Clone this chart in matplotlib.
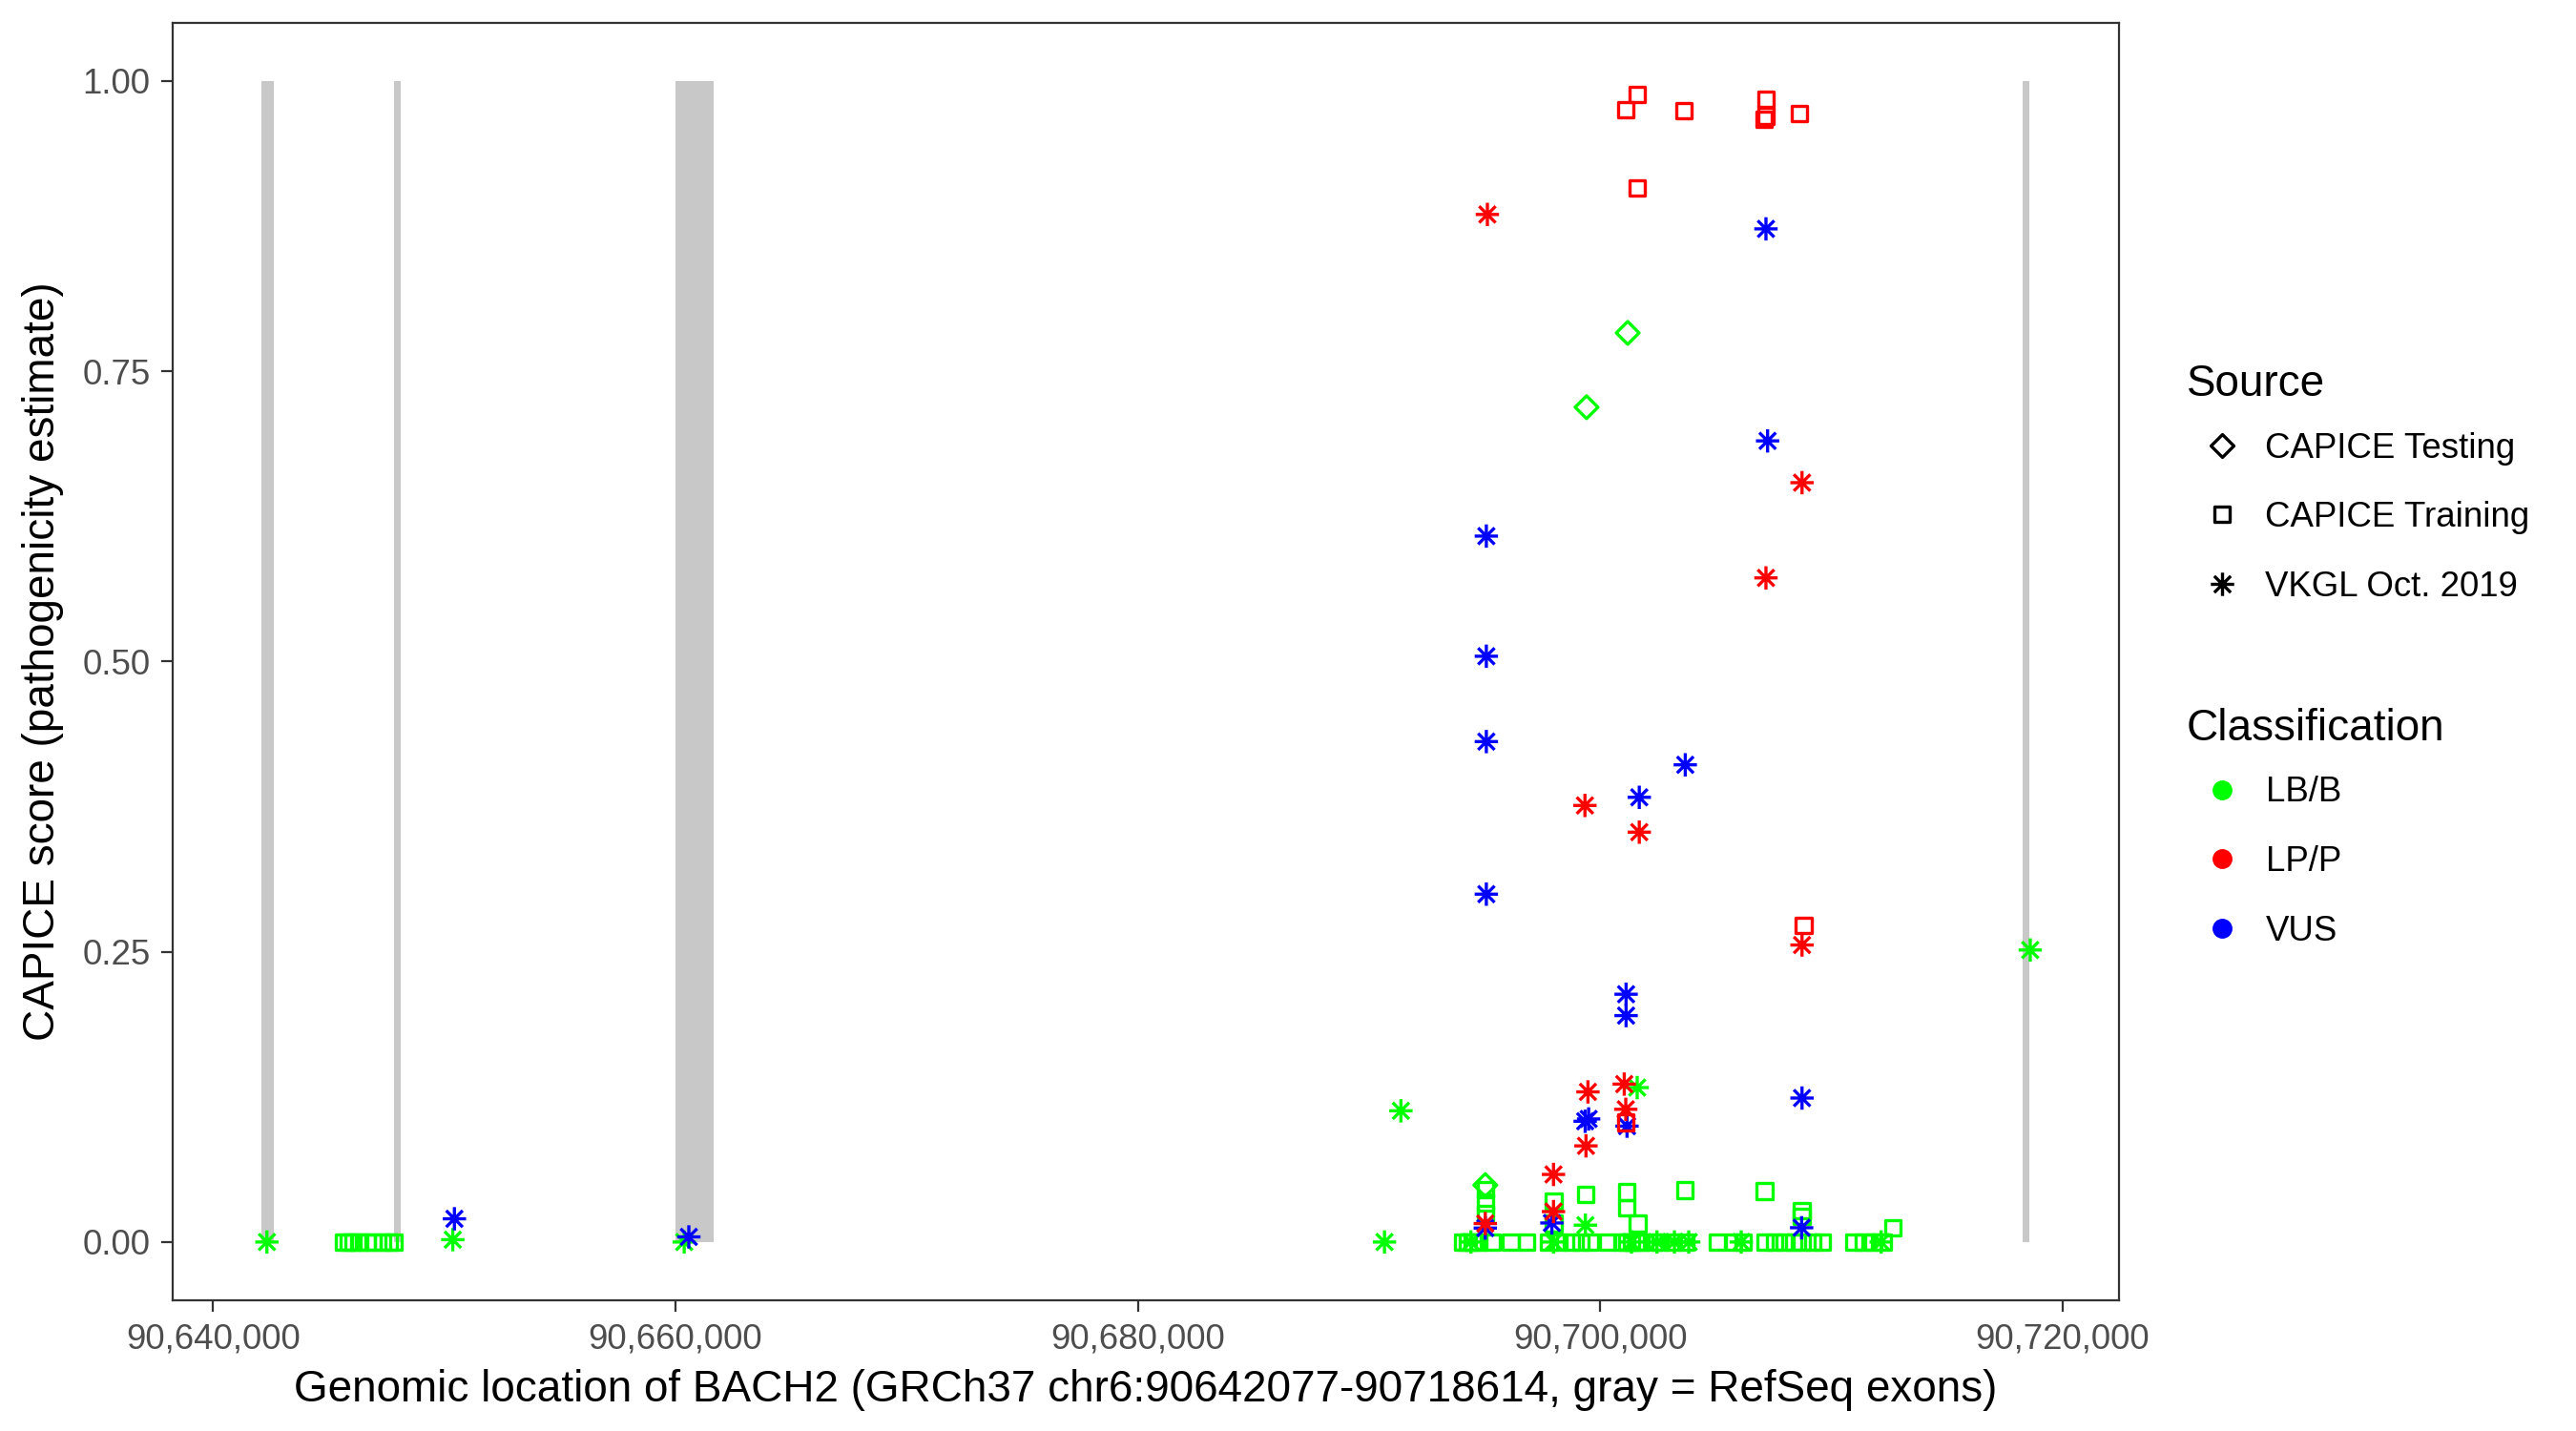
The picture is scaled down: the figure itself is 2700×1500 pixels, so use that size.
import numpy as np
import matplotlib
matplotlib.use("Agg")
import matplotlib.pyplot as plt
from matplotlib.path import Path
from matplotlib.lines import Line2D
from matplotlib.ticker import FuncFormatter

plt.rcParams["font.family"] = ["Liberation Sans", "DejaVu Sans"]

# gene + exons (GRCh37)
gene_start = 90642077
gene_end = 90718614
exon_start = [90642077, 90647820, 90659983, 90718270]
exon_end = [90642640, 90648110, 90661660, 90718560]

# CAPICE Testing
testing_lbb_pos = [90701190, 90699410, 90695030]
testing_lbb_score = [0.783, 0.719, 0.049]

# CAPICE Training
training_lpp_pos = [90701590, 90701105, 90703610, 90707170, 90707170, 90707100,
                    90708620, 90701590, 90708800, 90701100]
training_lpp_score = [0.9885, 0.9754, 0.9742, 0.9841, 0.970, 0.967,
                      0.972, 0.9078, 0.2727, 0.103]

training_lbb_pos = [90695030, 90695030, 90695030, 90697982, 90697982, 90699360,
                    90701147, 90701147, 90701628, 90703665, 90707103, 90708713,
                    90708713, 90712662,
                    90645662, 90645836, 90646055, 90646315, 90646657, 90646913,
                    90647338, 90647598, 90647800,
                    90694063, 90694269, 90694475, 90694751, 90695301, 90696126,
                    90696814, 90697777, 90698190, 90698740, 90699153, 90699566,
                    90700322, 90700941, 90701147, 90701354, 90701560, 90701767,
                    90702317, 90702592, 90703142, 90703693, 90705068, 90705756,
                    90706169, 90707132, 90707545, 90707957, 90708370, 90708714,
                    90709195, 90709608, 90710984, 90711396, 90711809, 90712222]
training_lbb_score = [0.045, 0.034, 0.024, 0.035, 0.016, 0.041,
                      0.0432, 0.0295, 0.0159, 0.0446, 0.044, 0.0268,
                      0.022, 0.0123,
                      0, 0, 0, 0, 0, 0, 0, 0, 0,
                      0, 0, 0, 0, 0, 0, 0, 0, 0, 0, 0, 0,
                      0, 0, 0, 0, 0, 0, 0, 0, 0, 0, 0, 0,
                      0, 0, 0, 0, 0, 0, 0, 0, 0, 0, 0, 0]

# VKGL Oct. 2019
vkgl_lbb_pos = [90642330, 90650370, 90660380, 90691380, 90690670, 90718600,
                90701600, 90699360,
                90694407, 90697983, 90701354, 90702455, 90703211, 90703830,
                90706100, 90712153]
vkgl_lbb_score = [0.0, 0.002, 0.0, 0.113, 0.0, 0.2515,
                  0.133, 0.0145,
                  0, 0, 0, 0, 0, 0, 0, 0]

vkgl_vus_pos = [90650440, 90660580, 90707170, 90707240, 90695075, 90695075,
                90695075, 90703680, 90701690, 90695075, 90701120, 90701120,
                90708730, 90699350, 90699500, 90701160, 90697910, 90695030,
                90708713]
vkgl_vus_score = [0.020, 0.0044, 0.8726, 0.690, 0.608, 0.5045,
                  0.431, 0.411, 0.383, 0.2996, 0.2134, 0.195,
                  0.124, 0.104, 0.106, 0.0998, 0.0164, 0.012,
                  0.0123]

vkgl_lpp_pos = [90695120, 90708730, 90707170, 90699340, 90701690, 90708730,
                90699470, 90701040, 90701106, 90699385, 90697980, 90697980,
                90695030]
vkgl_lpp_score = [0.885, 0.654, 0.572, 0.376, 0.353, 0.2558,
                  0.1293, 0.136, 0.1143, 0.0828, 0.0582, 0.0262,
                  0.0159]

col = {"LB/B": "#00FF00", "LP/P": "#FF0000", "VUS": "#0000FF"}

# ggplot-ish open shapes (0, 5, 8)
square = Path([(-1, -1), (1, -1), (1, 1), (-1, 1), (-1, -1)],
              [Path.MOVETO, Path.LINETO, Path.LINETO, Path.LINETO, Path.CLOSEPOLY])
diamond = Path([(0, -1), (1, 0), (0, 1), (-1, 0), (0, -1)],
               [Path.MOVETO, Path.LINETO, Path.LINETO, Path.LINETO, Path.CLOSEPOLY])
c = 1 / np.sqrt(2)
asterisk = Path([(-1, 0), (1, 0), (0, -1), (0, 1), (-c, -c), (c, c), (-c, c), (c, -c)],
                [Path.MOVETO, Path.LINETO] * 4)

ms = {"sq": 5.9, "di": 8.6, "ast": 8.8}
lw = 1.2

fig = plt.figure(figsize=(13.5, 7.5), dpi=200)
ax = fig.add_axes([0.0670, 0.0915, 0.8226 - 0.0670, 0.984 - 0.0915])

# exons in gray
ax.bar(exon_start, [1] * len(exon_start),
       width=np.array(exon_end) - np.array(exon_start),
       align="edge", color="#C8C8C8", linewidth=0, zorder=1)

groups = [
    (training_lbb_pos, training_lbb_score, square, "sq", "LB/B"),
    (vkgl_lbb_pos, vkgl_lbb_score, asterisk, "ast", "LB/B"),
    (testing_lbb_pos, testing_lbb_score, diamond, "di", "LB/B"),
    (vkgl_vus_pos, vkgl_vus_score, asterisk, "ast", "VUS"),
    (training_lpp_pos, training_lpp_score, square, "sq", "LP/P"),
    (vkgl_lpp_pos, vkgl_lpp_score, asterisk, "ast", "LP/P"),
]
for pos, score, mk, k, cls in groups:
    ax.scatter(pos, score, marker=mk, s=ms[k] ** 2, facecolors="none",
               edgecolors=col[cls], linewidths=lw, zorder=3)

lo, hi = gene_start, gene_end
pad = (hi - lo) * 0.05
ax.set_xlim(lo - pad, hi + pad)
ax.set_ylim(-0.05, 1.05)

ax.set_xticks(np.arange(90640000, 90720001, 20000))
ax.xaxis.set_major_formatter(FuncFormatter(lambda v, p: f"{int(v):,}"))
ax.set_yticks([0, 0.25, 0.5, 0.75, 1.0])
ax.yaxis.set_major_formatter(FuncFormatter(lambda v, p: f"{v:.2f}"))

ax.tick_params(length=4.4, width=0.8, color="#333333", labelcolor="#4D4D4D",
               labelsize=13.2, pad=4)
for sp in ax.spines.values():
    sp.set_color("#333333")
    sp.set_linewidth(0.8)

ax.set_xlabel("Genomic location of BACH2 (GRCh37 chr6:90642077-90718614, gray = RefSeq exons)",
              fontsize=16.5, labelpad=5)
ax.set_ylabel("CAPICE score (pathogenicity estimate)", fontsize=16.5, labelpad=7)

# legends
src_handles = [
    Line2D([], [], marker=diamond, linestyle="", markerfacecolor="none",
           markeredgecolor="black", markersize=ms["di"], markeredgewidth=lw),
    Line2D([], [], marker=square, linestyle="", markerfacecolor="none",
           markeredgecolor="black", markersize=ms["sq"], markeredgewidth=lw),
    Line2D([], [], marker=asterisk, linestyle="", markerfacecolor="none",
           markeredgecolor="black", markersize=ms["ast"], markeredgewidth=lw),
]
src_labels = ["CAPICE Testing", "CAPICE Training", "VKGL Oct. 2019"]
cls_handles = [Line2D([], [], marker="o", linestyle="", color=col[k], markersize=6.5)
               for k in ["LB/B", "LP/P", "VUS"]]
cls_labels = ["LB/B", "LP/P", "VUS"]

leg_kw = dict(loc="upper left", frameon=False, fontsize=13.2, title_fontsize=16.5,
              borderpad=0, borderaxespad=0, labelspacing=1.03, handletextpad=0.25,
              handlelength=2.0, alignment="left")
leg1 = fig.legend(src_handles, src_labels, title="Source",
                  bbox_to_anchor=(2292 / 2700, 1 - 381 / 1500), **leg_kw)
leg2 = fig.legend(cls_handles, cls_labels, title="Classification",
                  bbox_to_anchor=(2292 / 2700, 1 - 742 / 1500), **leg_kw)
# tighter gap between legend title and first key
for leg in (leg1, leg2):
    leg._legend_box.sep = 9.9

fig.savefig("out.png", dpi=200)
